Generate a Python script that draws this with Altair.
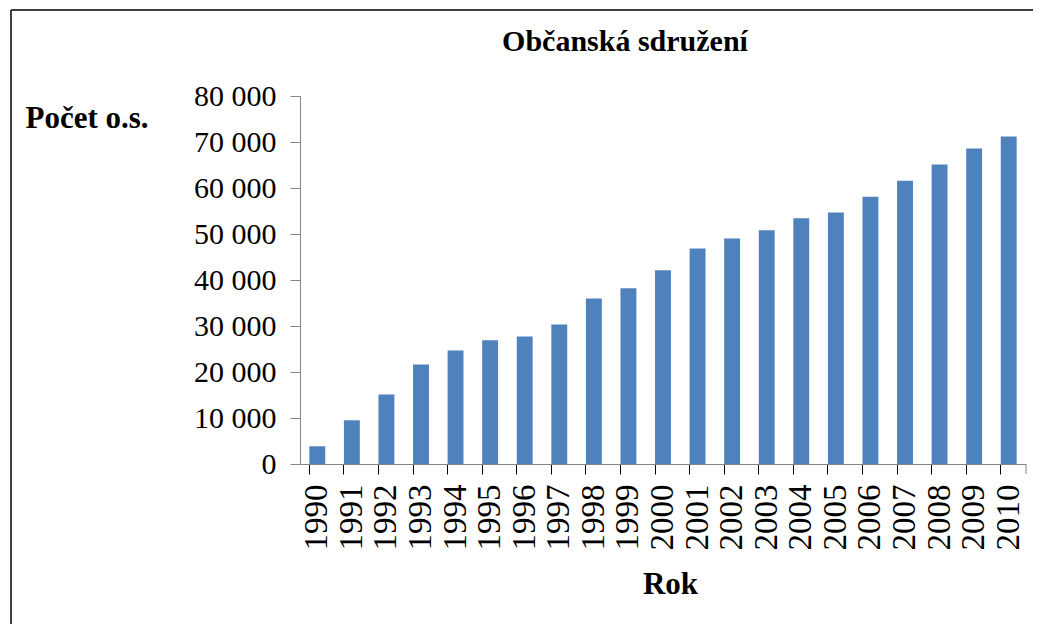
import altair as alt
import pandas as pd

years = [str(y) for y in range(1990, 2011)]
counts = [3850, 9500, 15100, 21650, 24700, 26900, 27700, 30300, 36000, 38200,
          42100, 46850, 49000, 50800, 53400, 54700, 58100, 61600, 65100, 68600, 71200]
title_text = ["Občanská sdružení"]

df = pd.DataFrame({"Rok": years, "Pocet": counts})
one = pd.DataFrame({"t": title_text})

W, H = 726, 368
FONT = "Liberation Serif"

bars = alt.Chart(df).mark_bar(color="#4F81BD").encode(
    x=alt.X("Rok:O", sort=None,
            scale=alt.Scale(paddingInner=0.54, paddingOuter=0.27),
            axis=alt.Axis(title="Rok", labelAngle=-90, labelFont=FONT, labelFontSize=33,
                          labelColor="black", labelPadding=10, tickColor="black",
                          tickSize=10, bandPosition=0, domainColor="#868686",
                          titleFont=FONT, titleFontSize=31, titleFontWeight="bold",
                          titleColor="black", titleX=370, titleY=120,
                          titleBaseline="middle", titleAlign="center")),
    y=alt.Y("Pocet:Q", scale=alt.Scale(domain=[0, 80000]),
            axis=alt.Axis(title="Počet o.s.", values=list(range(0, 80001, 10000)),
                          labelExpr="datum.value == 0 ? '0' : floor(datum.value/1000) + ' 000'",
                          labelFont=FONT, labelFontSize=30, labelColor="black",
                          labelPadding=14, tickColor="#868686", tickSize=10,
                          domainColor="#868686", grid=False,
                          titleFont=FONT, titleFontSize=31, titleFontWeight="bold",
                          titleColor="black", titleAngle=0, titleX=-275, titleY=22,
                          titleAlign="left", titleBaseline="middle")),
)

# white covers over the top and right edges of the plot area
cover_top = alt.Chart(one).mark_rule(color="white", strokeWidth=3).encode(
    x=alt.value(1), x2=alt.value(W + 3), y=alt.value(0))
cover_right = alt.Chart(one).mark_rule(color="white", strokeWidth=3).encode(
    x=alt.value(W), y=alt.value(-2), y2=alt.value(H - 1))

end_tick = alt.Chart(one).mark_rule(color="#868686").encode(
    x=alt.value(W), y=alt.value(H), y2=alt.value(H + 10))

frame_left = alt.Chart(one).mark_rule(color="#404040", strokeWidth=2).encode(
    x=alt.value(-289), y=alt.value(-86), y2=alt.value(H + 170))
frame_top = alt.Chart(one).mark_rule(color="#404040", strokeWidth=2).encode(
    x=alt.value(-289), x2=alt.value(W + 20), y=alt.value(-86))

title = alt.Chart(one).mark_text(
    font=FONT, fontSize=30, fontWeight="bold", color="black",
    align="center", baseline="middle").encode(
    text="t:N", x=alt.value(325), y=alt.value(-54))

chart = alt.layer(cover_top, cover_right, bars, end_tick, frame_left, frame_top, title).properties(
    width=W, height=H,
    background="white",
    padding={"left": 292, "top": 88, "right": 7, "bottom": 160},
    autosize=alt.AutoSizeParams(type="none"),
).configure_view(stroke="transparent", strokeWidth=0)

chart.save("out.html", embed_options={"renderer": "svg", "actions": False})
